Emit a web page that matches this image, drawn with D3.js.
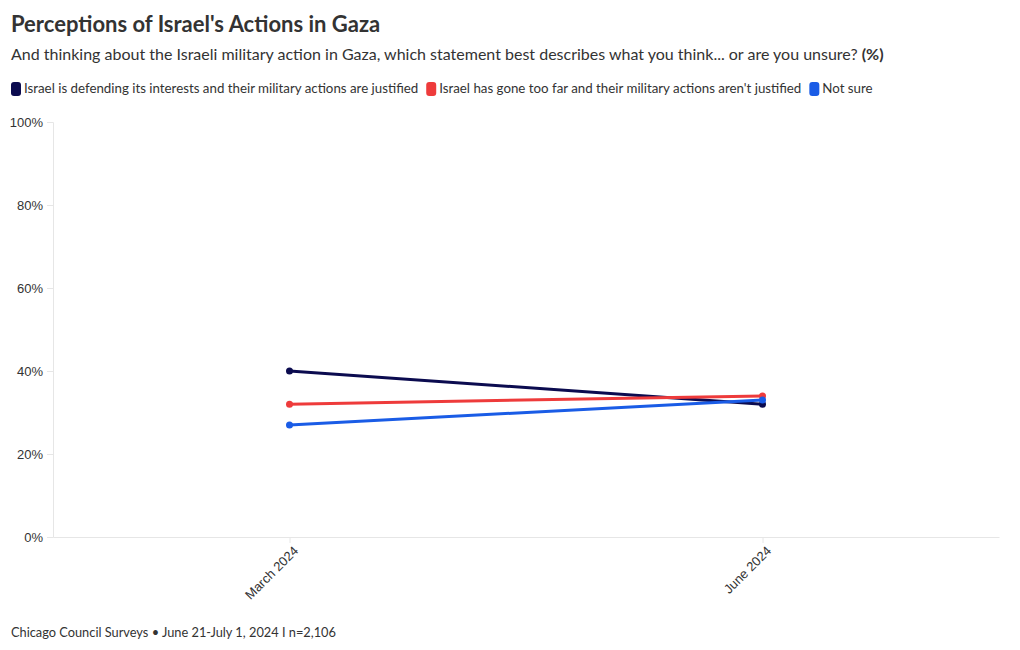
<!DOCTYPE html>
<html lang="en">
    <head>
        <meta charset="UTF-8">
        <script src="https://cdnjs.cloudflare.com/ajax/libs/d3/7.8.5/d3.min.js"></script>
        <title>Perceptions of Israel's Actions in Gaza</title>
        <style>
            body { margin: 0; background: #fff; font-family: "Source Sans Pro", Lato, "Noto Sans", sans-serif; }
            svg text { fill: #333; }
        </style>
    </head>
    <body>
        <script type="text/javascript">
            // Data
            var periods = ["March 2024", "June 2024"];
            var seriesNames = [
                "Israel is defending its interests and their military actions are justified",
                "Israel has gone too far and their military actions aren't justified",
                "Not sure"
            ];
            var justified = [40, 32];
            var tooFar = [32, 34];
            var notSure = [27, 33];
            var colors = ["#0b0b4f", "#ee3b3b", "#1a5ce6"];
            var yTicks = [0, 20, 40, 60, 80, 100];

            var series = [justified, tooFar, notSure].map(function(vals, i) {
                return { name: seriesNames[i], color: colors[i], values: vals.map(function(v, j) { return { period: periods[j], value: v }; }) };
            });

            var W = 1020, H = 650;
            var margin = { top: 122, right: 21, bottom: 113, left: 53 };
            var width = W - margin.left - margin.right;
            var height = H - margin.top - margin.bottom;

            var svg = d3.select("body").append("svg")
                .attr("width", W)
                .attr("height", H);

            // Title, subtitle
            svg.append("text")
                .attr("x", 11).attr("y", 32)
                .style("font-size", "22px").style("font-weight", "700")
                .text("Perceptions of Israel's Actions in Gaza");

            var sub = svg.append("text")
                .attr("x", 11).attr("y", 60)
                .style("font-size", "16px");
            sub.append("tspan").text("And thinking about the Israeli military action in Gaza, which statement best describes what you think... or are you unsure? ");
            sub.append("tspan").style("font-weight", "700").text("(%)");

            // Legend
            var legend = svg.append("g").attr("transform", "translate(11,93)");
            var lx = 0;
            series.forEach(function(s) {
                var g = legend.append("g").attr("transform", "translate(" + lx + ",0)");
                g.append("rect")
                    .attr("x", 0).attr("y", -11)
                    .attr("width", 10).attr("height", 14)
                    .attr("rx", 3)
                    .attr("fill", s.color);
                var t = g.append("text")
                    .attr("x", 13).attr("y", 0)
                    .style("font-size", "13.3px")
                    .text(s.name);
                lx += 13 + t.node().getComputedTextLength() + 8;
            });

            var chart = svg.append("g")
                .attr("transform", "translate(" + margin.left + "," + margin.top + ")");

            var x = d3.scalePoint().domain(periods).range([0, width]).padding(0.5);
            var y = d3.scaleLinear().domain([0, 100]).range([height, 0]);

            // Y axis
            var yAxis = chart.append("g")
                .call(d3.axisLeft(y).tickValues(yTicks).tickSize(6).tickPadding(4).tickFormat(function(d) { return d + "%"; }));
            yAxis.select(".domain").attr("stroke", "#e6e6e6");
            yAxis.selectAll(".tick line").attr("stroke", "#e6e6e6");
            yAxis.selectAll(".tick text")
                .style("font-size", "13px").style("font-family", "inherit").attr("fill", "#555");

            // X axis
            var xAxis = chart.append("g")
                .attr("transform", "translate(0," + height + ")")
                .call(d3.axisBottom(x).tickSize(6).tickSizeOuter(0));
            xAxis.select(".domain").attr("stroke", "#e6e6e6");
            xAxis.selectAll(".tick line").attr("stroke", "#e6e6e6");
            xAxis.selectAll(".tick text")
                .style("font-size", "13px").style("font-family", "inherit").attr("fill", "#555")
                .style("text-anchor", "end")
                .attr("dx", "-0.3em")
                .attr("dy", "0.6em")
                .attr("transform", "rotate(-45)");

            // Lines and points
            var line = d3.line()
                .x(function(d) { return x(d.period); })
                .y(function(d) { return y(d.value); });

            series.forEach(function(s) {
                chart.append("path")
                    .datum(s.values)
                    .attr("fill", "none")
                    .attr("stroke", s.color)
                    .attr("stroke-width", 3)
                    .attr("d", line);
            });
            series.forEach(function(s) {
                chart.selectAll(null)
                    .data(s.values)
                    .enter()
                    .append("circle")
                    .attr("cx", function(d) { return x(d.period); })
                    .attr("cy", function(d) { return y(d.value); })
                    .attr("r", 3.5)
                    .attr("fill", s.color);
            });

            // Footer
            svg.append("text")
                .attr("x", 11).attr("y", 637)
                .style("font-size", "12.8px")
                .text("Chicago Council Surveys \u2022 June 21-July 1, 2024 I n=2,106");
        </script>
    </body>
</html>
